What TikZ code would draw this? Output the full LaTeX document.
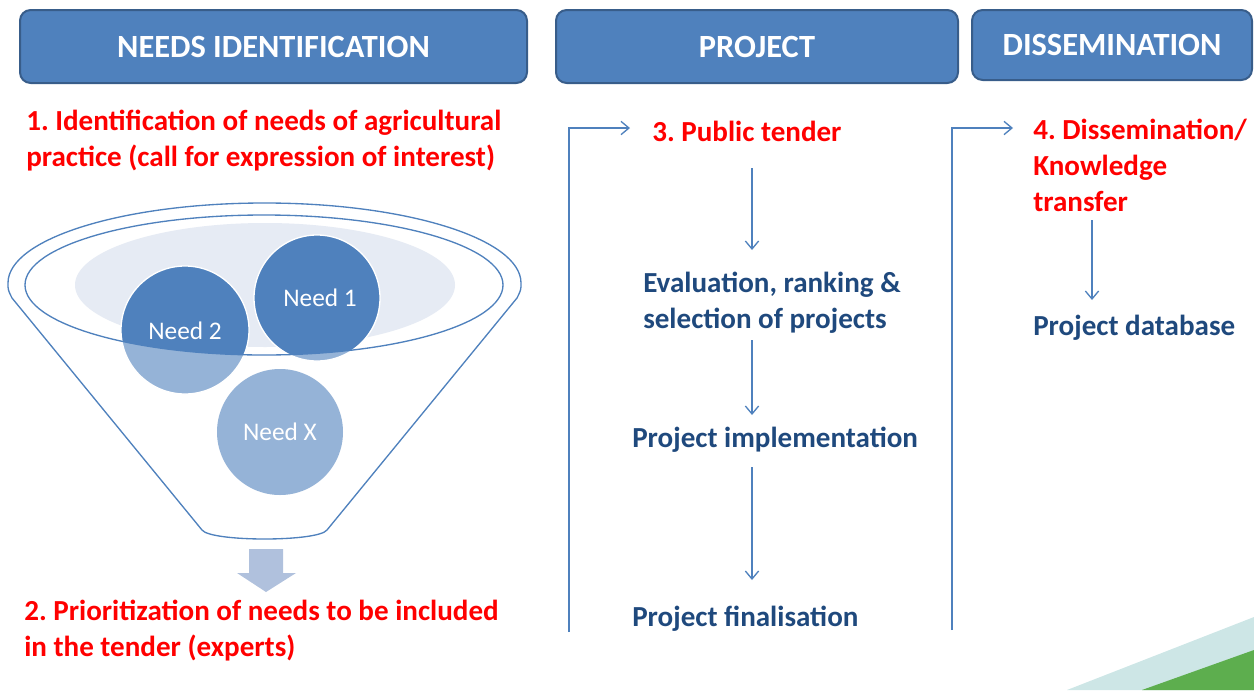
\documentclass[tikz,border=0pt]{standalone}
\usepackage{fontspec}
\setmainfont{Carlito}
\usetikzlibrary{arrows.meta}
\frenchspacing
\definecolor{hdrfill}{HTML}{4F81BD}
\definecolor{hdrline}{HTML}{385D8A}
\definecolor{flow}{HTML}{4F81BD}
\definecolor{darktxt}{HTML}{1F497D}
\definecolor{lightneed}{HTML}{95B3D7}
\definecolor{palefill}{HTML}{E6EBF4}
\definecolor{arrowfill}{HTML}{B0C1DD}
\definecolor{teal}{HTML}{CDE6E6}
\definecolor{grn}{HTML}{5DAE4E}
\tikzset{
  header/.style={draw=hdrline, line width=1.5pt, fill=hdrfill, rounded corners=8pt,
    text=white, font=\fontsize{24.3}{27}\selectfont\bfseries},
  redtxt/.style={text=red, font=\fontsize{21.8}{27}\selectfont\bfseries\frenchspacing, align=left, anchor=north west, inner sep=0pt},
  bluetxt/.style={text=darktxt, font=\fontsize{21.8}{27}\selectfont\bfseries, align=left, anchor=west, inner sep=0pt},
  flowline/.style={draw=flow, line width=1pt},
  flowarrow/.style={flowline, -{Straight Barb[length=6pt,width=10pt]}},
  needtxt/.style={text=white, font=\fontsize{19}{22}\selectfont},
  funnelline/.style={draw=flow, line width=1pt}
}
\begin{document}
\begin{tikzpicture}[x=0.75pt,y=-0.75pt]
\useasboundingbox (0,0) rectangle (1254,690);
% green corner
\fill[teal] (1067,690) -- (1254,617) -- (1254,690) -- cycle;
\fill[grn] (1142,690) -- (1254,650) -- (1254,690) -- cycle;
% headers
\node[header, minimum width=507*0.75pt, minimum height=73*0.75pt] (h1) at (273.5,46.5) {NEEDS IDENTIFICATION};
\node[header, minimum width=402*0.75pt, minimum height=73*0.75pt] (h2) at (757,46.5) {PROJECT};
\node[header, minimum width=280*0.75pt, minimum height=70*0.75pt] (h3) at (1112,45) {DISSEMINATION};
% red texts left
\node[redtxt] (t1) at (26,110) {1. Identification of needs of agricultural\\practice (call for expression of interest)};
\node[redtxt] (t2) at (24,600) {2. Prioritization of needs to be included\\in the tender (experts)};
% funnel
\draw[funnelline, fill=white] (8,283) arc[start angle=180, end angle=360, x radius=256.5, y radius=80]
  .. controls (521,290) .. (517,298) -- (327,530)
  .. controls (318,542) and (211,542) .. (202,530) -- (12,298) .. controls (8,290) .. (8,283) -- cycle;
\fill[palefill] (265,285) ellipse[x radius=190, y radius=62];
\fill[lightneed] (185,330) circle[radius=64];
\fill[lightneed] (317,298) circle[radius=63];
\fill[lightneed] (280,432) circle[radius=63];
\begin{scope}
  \clip (264,285) ellipse[x radius=239, y radius=70];
  \fill[hdrfill] (185,330) circle[radius=64];
  \fill[hdrfill] (317,298) circle[radius=63];
\end{scope}
\draw[white, line width=1pt] (185,330) circle[radius=64];
\draw[white, line width=1pt] (317,298) circle[radius=63];
\draw[funnelline] (264,285) ellipse[x radius=239, y radius=70];
\node[needtxt] (n1) at (320,298) {Need 1};
\node[needtxt] (n2) at (185,331) {Need 2};
\node[needtxt] (nx) at (280,432) {Need X};
% block arrow
\fill[arrowfill] (249,549) -- (283,549) -- (283,573) -- (296,573) -- (266,592) -- (237,573) -- (249,573) -- cycle;
% project column
\node[redtxt, anchor=west] (p3) at (652,131) {3. Public tender};
\node[bluetxt] (pe) at (643,303) {Evaluation, ranking \&\\selection of projects};
\node[bluetxt] (pi) at (632,440) {Project implementation};
\node[bluetxt] (pf) at (632,619) {Project finalisation};
\coordinate (b1bot) at (569,632);
\coordinate (b1top) at (569,128);
\coordinate (b1end) at (630,128);
\draw[flowarrow] (b1bot) -- (b1top) -- (b1end);
\draw[flowarrow] (752,168) -- (752,250);
\draw[flowarrow] (752,340) -- (752,415);
\draw[flowarrow] (752,467) -- (752,580);
% dissemination column
\node[redtxt] (d4) at (1033,119) {4. Dissemination/\\Knowledge\\transfer};
\node[bluetxt] (db) at (1033,328) {Project database};
\coordinate (b2bot) at (952,630);
\coordinate (b2top) at (952,128);
\coordinate (b2end) at (1013,128);
\draw[flowarrow] (b2bot) -- (b2top) -- (b2end);
\draw[flowarrow] (1092,220) -- (1092,300);
\end{tikzpicture}
\end{document}
